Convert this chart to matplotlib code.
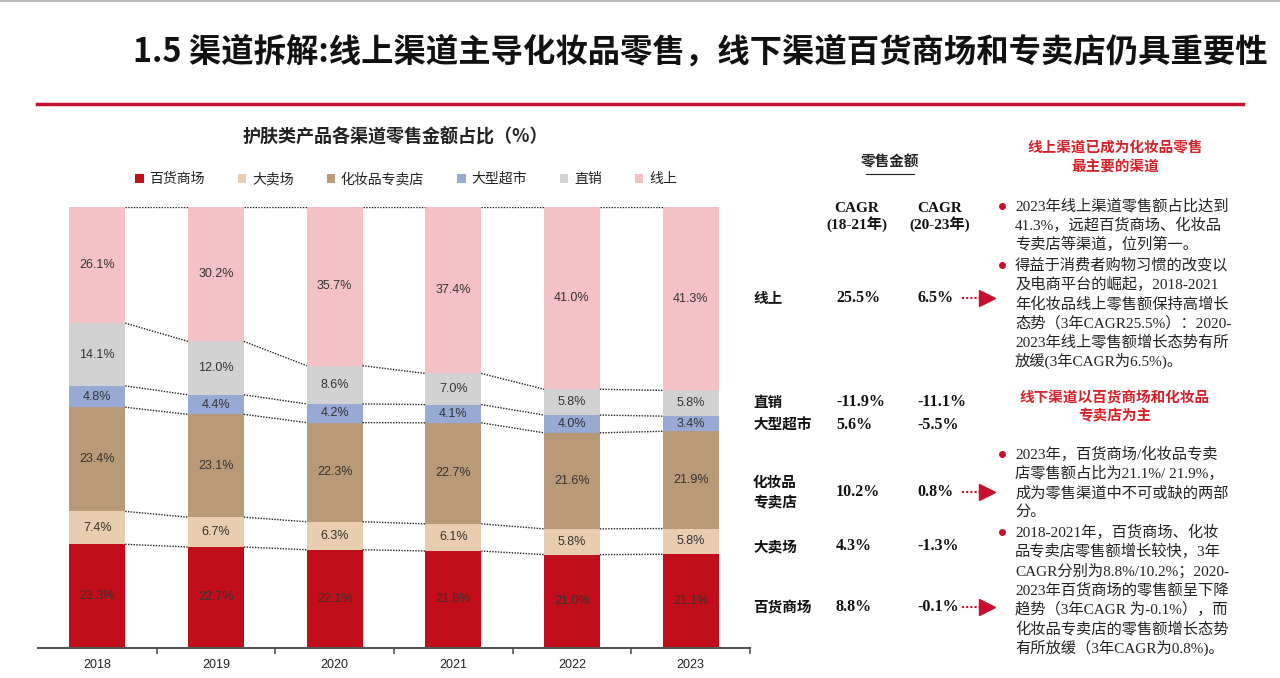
import numpy as np
import matplotlib
matplotlib.use('Agg')
import matplotlib.pyplot as plt
from matplotlib.lines import Line2D
from matplotlib.patches import Patch

plt.rcParams['font.family'] = ['Noto Sans CJK SC', 'DejaVu Sans']

# data
years = ['2018', '2019', '2020', '2021', '2022', '2023']
channels = ['百货商场', '大卖场', '化妆品专卖店', '大型超市', '直销', '线上']
dept_store = [23.3, 22.7, 22.1, 21.8, 21.0, 21.1]
hypermarket = [7.4, 6.7, 6.3, 6.1, 5.8, 5.8]
cosmetic_store = [23.4, 23.1, 22.3, 22.7, 21.6, 21.9]
supermarket = [4.8, 4.4, 4.2, 4.1, 4.0, 3.4]
direct_sale = [14.1, 12.0, 8.6, 7.0, 5.8, 5.8]
online = [26.1, 30.2, 35.7, 37.4, 41.0, 41.3]
colors = ['#C20E1A', '#E8CDB0', '#B89A78', '#97AAD3', '#D2D2D2', '#F4C2C4']

table_rows = ['线上', '直销', '大型超市', '化妆品\n专卖店', '大卖场', '百货商场']
cagr_18_21 = ['25.5%', '-11.9%', '5.6%', '10.2%', '4.3%', '8.8%']
cagr_20_23 = ['6.5%', '-11.1%', '-5.5%', '0.8%', '-1.3%', '-0.1%']
arrow_rows = ['线上', '化妆品\n专卖店', '百货商场']

online_title = '线上渠道已成为化妆品零售\n最主要的渠道'
online_bullets = [
    ['2023年线上渠道零售额占比达到', '41.3%，远超百货商场、化妆品', '专卖店等渠道，位列第一。'],
    ['得益于消费者购物习惯的改变以', '及电商平台的崛起，2018-2021', '年化妆品线上零售额保持高增长',
     '态势（3年CAGR25.5%）：2020-', '2023年线上零售额增长态势有所', '放缓(3年CAGR为6.5%)。'],
]
offline_title = '线下渠道以百货商场和化妆品\n专卖店为主'
offline_bullets = [
    ['2023年，百货商场/化妆品专卖', '店零售额占比为21.1%/ 21.9%，', '成为零售渠道中不可或缺的两部', '分。'],
    ['2018-2021年，百货商场、化妆', '品专卖店零售额增长较快，3年', 'CAGR分别为8.8%/10.2%；2020-',
     '2023年百货商场的零售额呈下降', '趋势（3年CAGR 为-0.1%），而', '化妆品专卖店的零售额增长态势',
     '有所放缓（3年CAGR为0.8%)。'],
]

W, H = 1280, 678
fig = plt.figure(figsize=(W / 100, H / 100), dpi=100)


def fx(x):
    return x / W


def fy(y):
    return 1 - y / H


serif_cjk = ['Liberation Serif', 'Noto Sans CJK SC']
red = '#C8102E'

# page header
fig.text(fx(133), fy(52), '1.5 渠道拆解:线上渠道主导化妆品零售，线下渠道百货商场和专卖店仍具重要性',
         fontsize=23.3, fontweight='bold', color='#111111', ha='left', va='center')
fig.add_artist(Line2D([fx(37), fx(1243)], [fy(104), fy(104)], color='#C8102E', lw=2.5))
fig.add_artist(Line2D([0, 1], [fy(1), fy(1)], color='#BBBBBB', lw=1.5))

# stacked bars
ax = fig.add_axes([fx(38), fy(648), fx(750) - fx(38), (648 - 207) / H])
series = np.array([dept_store, hypermarket, cosmetic_store, supermarket, direct_sale, online])
shares = series / series.sum(axis=0) * 100
x = np.arange(len(years))
width = 0.47
bottom = np.zeros(len(years))
for i, name in enumerate(channels):
    ax.bar(x, shares[i], width, bottom=bottom, color=colors[i], label=name)
    for j in range(len(years)):
        ax.text(x[j], bottom[j] + shares[i][j] / 2, f'{series[i][j]:.1f}%',
                ha='center', va='center', fontsize=9, color='#333333', family='Liberation Sans')
    bottom = bottom + shares[i]
    # dotted connectors between neighbouring bars
    for j in range(len(years) - 1):
        ax.plot([x[j] + width / 2, x[j + 1] - width / 2], [bottom[j], bottom[j + 1]],
                ls=(0, (1, 1)), color='#222222', lw=1)

ax.set_xlim(-0.5, 5.5)
ax.set_ylim(0, 100)
for s in ['top', 'right', 'left']:
    ax.spines[s].set_visible(False)
ax.spines['bottom'].set_color('#555555')
ax.spines['bottom'].set_linewidth(1.5)
ax.set_yticks([])
ax.set_xticks(x)
ax.set_xticklabels(years, fontsize=9, color='#222222', family='Liberation Sans')
ax.tick_params(axis='x', which='major', length=0, pad=8)
ax.set_xticks(np.arange(0.5, 5.6, 1), minor=True)
ax.tick_params(axis='x', which='minor', length=4, color='#555555', width=1.2)

fig.text(fx(395), fy(137), '护肤类产品各渠道零售金额占比（%）', fontsize=13, fontweight='bold',
         color='#222222', ha='center', va='center')
handles = [Patch(facecolor=c, edgecolor='none') for c in colors]
fig.legend(handles, channels, loc='center', bbox_to_anchor=(fx(406), fy(179)), ncol=6,
           frameon=False, fontsize=10, handlelength=0.6, handleheight=0.6, handletextpad=0.4,
           columnspacing=2.4, labelcolor='#222222')

# CAGR table
fig.text(fx(890), fy(162), '零售金额', fontsize=10.5, fontweight='bold', color='#222222',
         ha='center', va='center')
fig.add_artist(Line2D([fx(866), fx(914)], [fy(174), fy(174)], color='#222222', lw=0.8))
fig.text(fx(857), fy(217), 'CAGR\n(18-21年)', fontsize=11, fontweight='bold', family=serif_cjk,
         color='#111111', ha='center', va='center', linespacing=1.1)
fig.text(fx(940), fy(217), 'CAGR\n(20-23年)', fontsize=11, fontweight='bold', family=serif_cjk,
         color='#111111', ha='center', va='center', linespacing=1.1)
row_y = [298, 402, 425, 492, 546, 607]
for name, a, b, yy in zip(table_rows, cagr_18_21, cagr_20_23, row_y):
    fig.text(fx(753), fy(yy), name, fontsize=10.5, fontweight='bold', color='#111111',
             ha='left', va='center', linespacing=1.3)
    fig.text(fx(836), fy(yy), a, fontsize=11.5, fontweight='bold', family='Liberation Serif',
             color='#111111', ha='left', va='center')
    fig.text(fx(917), fy(yy), b, fontsize=11.5, fontweight='bold', family='Liberation Serif',
             color='#111111', ha='left', va='center')
    if name in arrow_rows:
        fig.add_artist(Line2D([fx(962), fx(982)], [fy(yy), fy(yy)], color=red, lw=1.5,
                              ls=(0, (1, 1))))
        fig.add_artist(Line2D([fx(987)], [fy(yy)], marker='>', markersize=11, color=red,
                              markeredgecolor=red))

# notes on the right
fig.text(fx(1115), fy(157), online_title, fontsize=10.5, fontweight='bold', color='#D7222B',
         ha='center', va='center', linespacing=1.25)
fig.text(fx(1115), fy(406), offline_title, fontsize=10.5, fontweight='bold', color='#D7222B',
         ha='center', va='center', linespacing=1.25)


def bullets(blocks, y0, step=19.3):
    yy = y0
    for block in blocks:
        fig.add_artist(Line2D([fx(1002)], [fy(yy)], marker='o', markersize=4, color='#C8102E'))
        for line in block:
            fig.text(fx(1015), fy(yy), line, fontsize=11, family=serif_cjk, color='#222222',
                     ha='left', va='center')
            yy += step
        yy += 1.0


bullets(online_bullets, 206)
bullets(offline_bullets, 454)

fig.savefig('out.png', dpi=100)
